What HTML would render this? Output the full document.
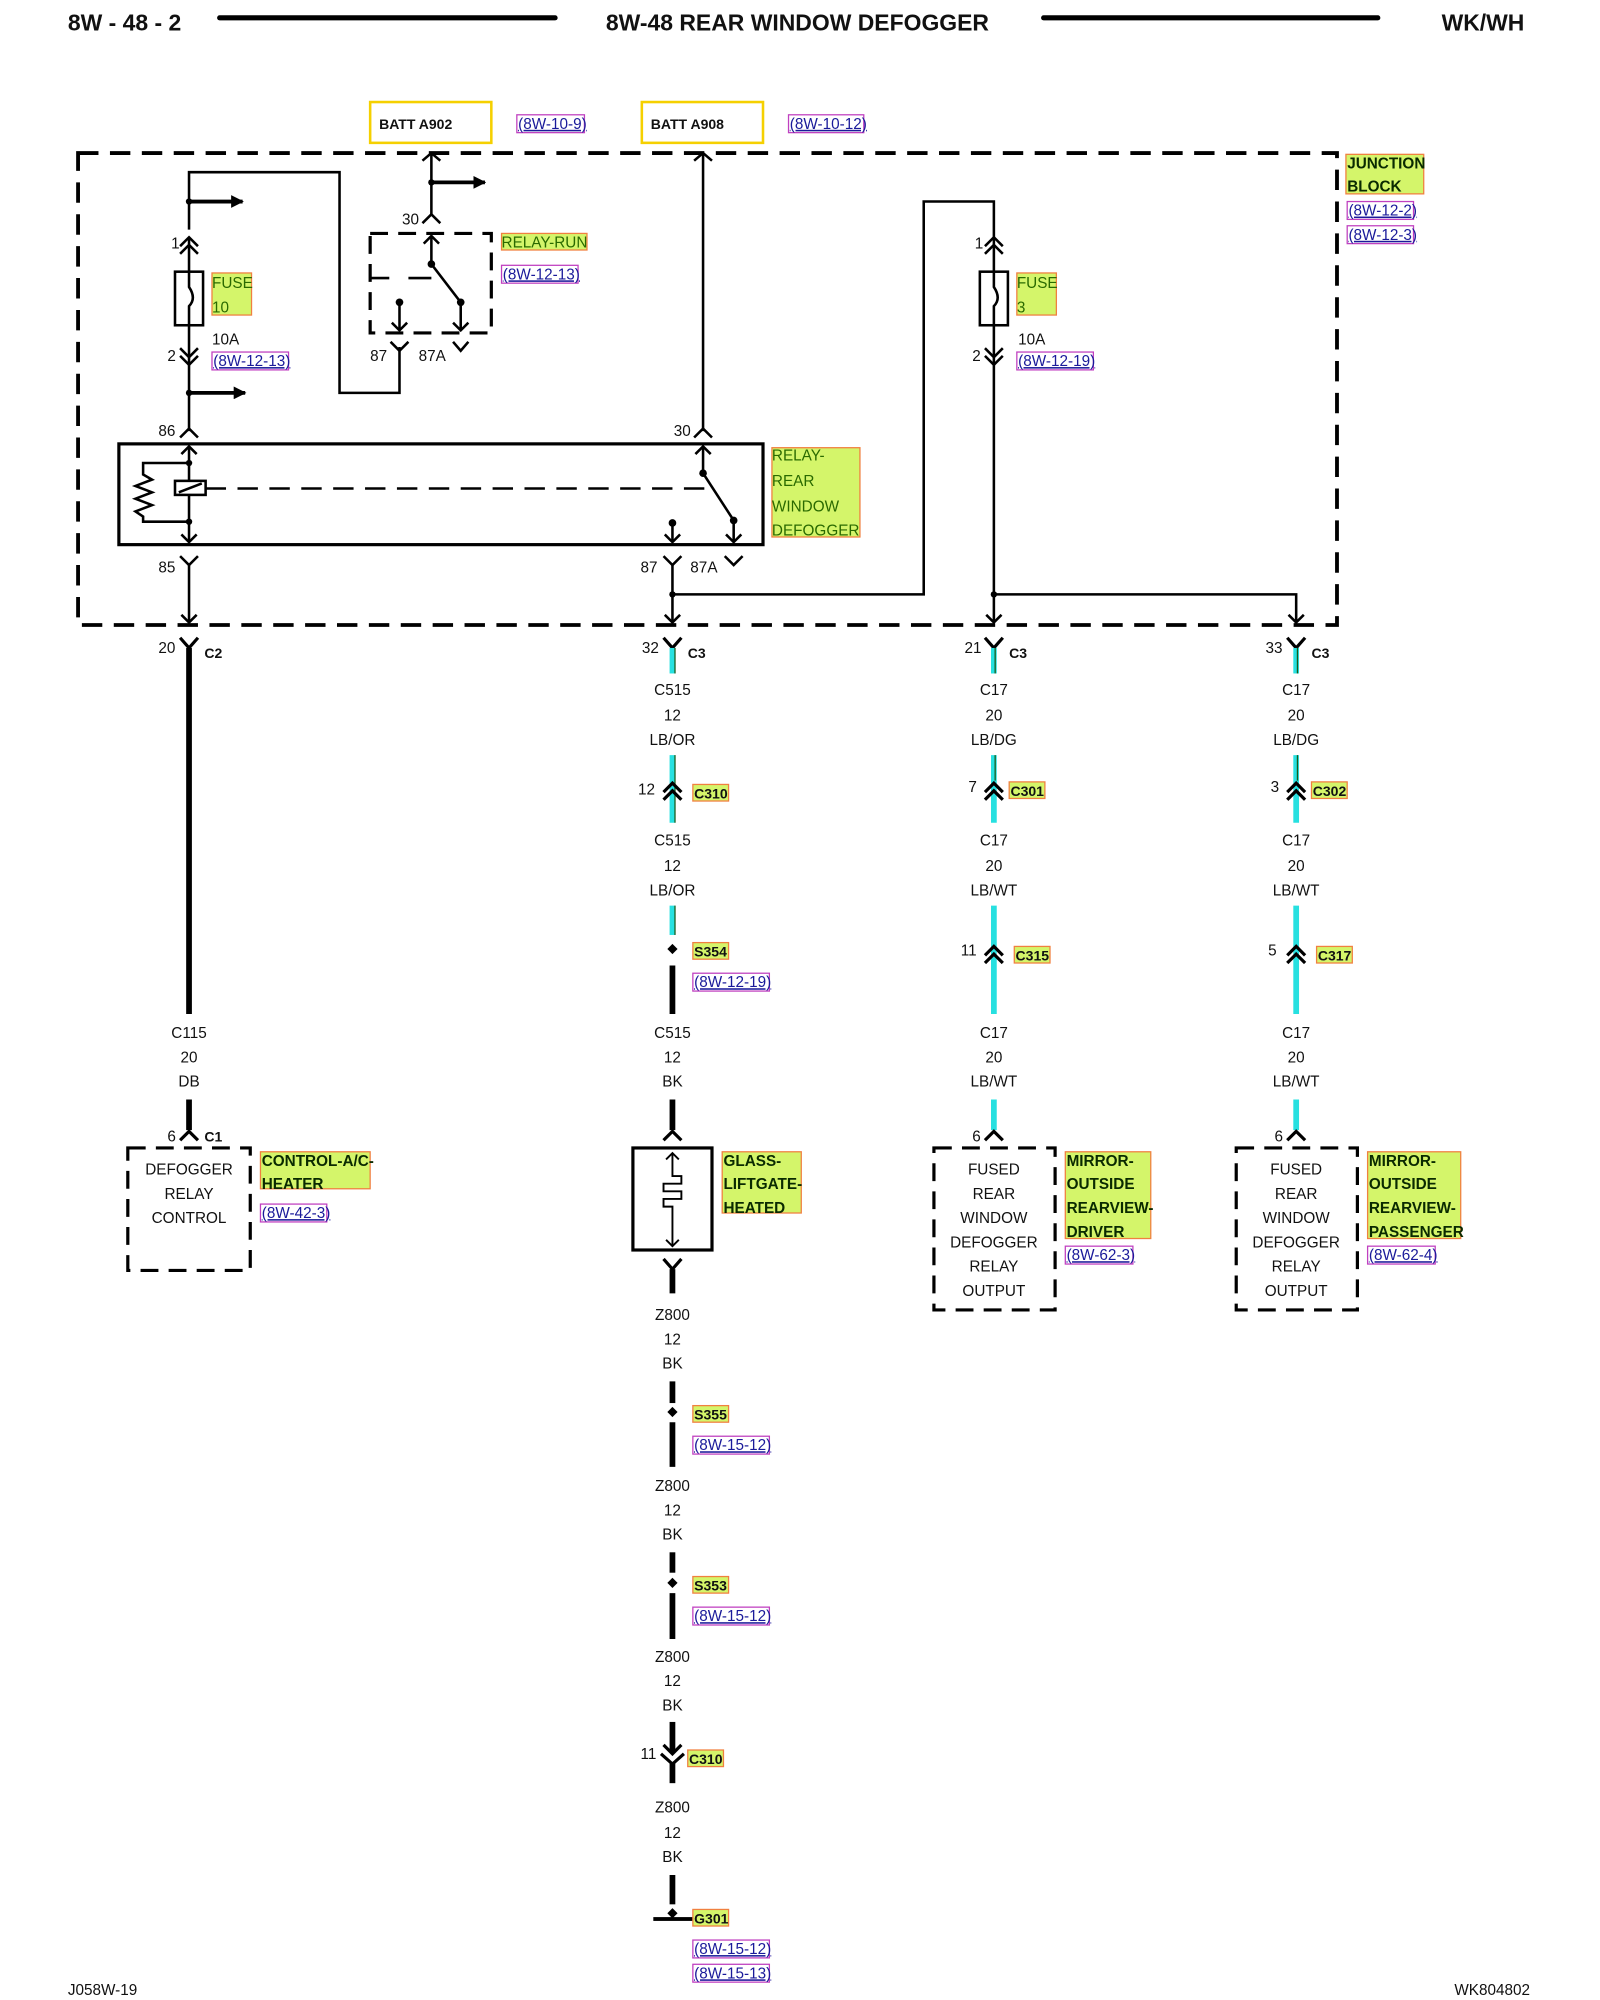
<!DOCTYPE html>
<html><head><meta charset="utf-8"><style>
html,body{margin:0;padding:0;background:#fff}
svg{display:block}
text{font-family:"Liberation Sans",sans-serif}
.t{font-size:12px;fill:#111}
.b{font-size:11px;font-weight:bold;fill:#111}
.g{font-size:12px;fill:#2a6a00}
.gb{font-size:12px;font-weight:bold;fill:#0a2a00}
.r{font-size:12px;fill:#1a1a9a;text-decoration:underline}
.h{font-size:18px;font-weight:bold;fill:#111}
</style></head><body>
<svg width="1600" height="2000" viewBox="0 0 1254 1568" xmlns="http://www.w3.org/2000/svg">
<defs>
<marker id="ah" markerWidth="10" markerHeight="10" refX="9" refY="5" orient="auto" markerUnits="userSpaceOnUse"><path d="M0,0 L10,5 L0,10 z" fill="#000"/></marker>
</defs>
<!-- header -->
<text x="53" y="24" class="h">8W - 48 - 2</text>
<line x1="172" y1="14" x2="435" y2="14" stroke="#000" stroke-width="4" stroke-linecap="round"/>
<text x="625" y="24" class="h" text-anchor="middle">8W-48 REAR WINDOW DEFOGGER</text>
<line x1="818" y1="14" x2="1080" y2="14" stroke="#000" stroke-width="4" stroke-linecap="round"/>
<text x="1130" y="24" class="h">WK/WH</text>

<!-- BATT boxes -->
<rect x="290" y="80" width="95" height="32" fill="none" stroke="#f5d000" stroke-width="2"/>
<text x="297" y="101" class="b">BATT A902</text>
<rect x="405" y="90" width="53" height="14" fill="none" stroke="#c040c0" stroke-width="1"/>
<text x="406" y="101" class="r" font-size="11">(8W-10-9)</text>
<rect x="503" y="80" width="95" height="32" fill="none" stroke="#f5d000" stroke-width="2"/>
<text x="510" y="101" class="b">BATT A908</text>
<rect x="618" y="90" width="59" height="14" fill="none" stroke="#c040c0" stroke-width="1"/>
<text x="619" y="101" class="r" font-size="11">(8W-10-12)</text>

<!-- junction block dashed -->
<rect x="61" y="120" width="987" height="370" fill="none" stroke="#000" stroke-width="3" stroke-dasharray="16,9"/>
<rect x="1055" y="121" width="61" height="31" fill="#d4f56a" stroke="#f08040" stroke-width="1"/>
<text x="1056" y="132" class="gb" font-size="11">JUNCTION</text>
<text x="1056" y="150" class="gb" font-size="11">BLOCK</text>
<rect x="1056" y="158" width="52" height="14" fill="none" stroke="#c040c0"/>
<text x="1057" y="169" class="r" font-size="11">(8W-12-2)</text>
<rect x="1056" y="177" width="52" height="14" fill="none" stroke="#c040c0"/>
<text x="1057" y="188" class="r" font-size="11">(8W-12-3)</text>

<g stroke="#000" stroke-width="2" fill="none">
<!-- left fuse column -->
<polyline points="148,180 148,135 266,135 266,308 313,308 313,272"/>
<line x1="148" y1="158" x2="190" y2="158" stroke-width="3" marker-end="url(#ah)"/>
<polyline points="141,193 148,186 155,193"/><polyline points="141,199 148,192 155,199"/>
<line x1="148" y1="186" x2="148" y2="285"/>
<rect x="137" y="213" width="22" height="42" fill="#fff"/>
<path d="M148,213 L148,225 Q154,234 148,240 L148,255"/>
<polyline points="141,273 148,280 155,273"/><polyline points="141,279 148,286 155,279"/>
<line x1="148" y1="286" x2="148" y2="338"/>
<line x1="148" y1="308" x2="192" y2="308" stroke-width="3" marker-end="url(#ah)"/>
<polyline points="141,343 148,336 155,343"/>
<!-- relay rear window -->
<rect x="93" y="348" width="505" height="79" stroke-width="2.5"/>
<line x1="148" y1="350" x2="148" y2="425"/>
<polyline points="142,356 148,350 154,356"/><polyline points="142,419 148,425 154,419"/>
<polyline points="148,363 112,363 112,372 119,376 106,381 119,386 106,391 119,396 106,401 112,405 112,409 148,409"/>
<rect x="137" y="377" width="24" height="11" fill="#fff"/>
<line x1="140" y1="386" x2="158" y2="379"/>
<line x1="161" y1="383" x2="555" y2="383" stroke-dasharray="16,9"/>
<polyline points="141,436 148,443 155,436"/>
<line x1="148" y1="443" x2="148" y2="488"/>
<polyline points="142,482 148,488 154,482"/>
<!-- switch 30 -->
<line x1="551" y1="120" x2="551" y2="338"/>
<polyline points="544,126 551,120 558,126"/>
<polyline points="544,343 551,336 558,343"/>
<polyline points="551,350 551,371 575,408 575,425"/>
<polyline points="545,356 551,350 557,356"/>
<polyline points="569,419 575,425 581,419"/>
<polyline points="527,410 527,425"/><polyline points="521,419 527,425 533,419"/>
<polyline points="568,436 575,443 582,436"/>
<polyline points="520,436 527,443 534,436"/>
<polyline points="527,443 527,488"/><polyline points="521,482 527,488 533,482"/>
<polyline points="527,466 724,466 724,158 779,158 779,186"/>
<polyline points="779,466 1016,466 1016,488"/><polyline points="1010,482 1016,488 1022,482"/>
<!-- fuse 3 -->
<polyline points="772,193 779,186 786,193"/><polyline points="772,199 779,192 786,199"/>
<line x1="779" y1="186" x2="779" y2="488"/>
<rect x="768" y="213" width="22" height="42" fill="#fff"/>
<path d="M779,213 L779,225 Q785,234 779,240 L779,255"/>
<polyline points="772,273 779,280 786,273"/><polyline points="772,279 779,286 786,279"/>
<polyline points="773,482 779,488 785,482"/>
<!-- relay run -->
<line x1="338" y1="120" x2="338" y2="168"/>
<polyline points="331,126 338,120 345,126"/>
<line x1="338" y1="143" x2="380" y2="143" stroke-width="3" marker-end="url(#ah)"/>
<polyline points="331,175 338,168 345,175"/>
<rect x="290" y="183" width="95" height="78" stroke-width="2.5" stroke-dasharray="14,8"/>
<polyline points="338,185 338,207 361,237 361,259"/>
<polyline points="332,191 338,185 344,191"/>
<polyline points="355,253 361,259 367,253"/>
<polyline points="290,218 305,218"/><polyline points="320,218 338,218"/>
<polyline points="313,237 313,259"/><polyline points="307,253 313,259 319,253"/>
<polyline points="306,268 313,275 320,268"/>
<polyline points="355,268 361,275 367,268"/>
</g>
<g fill="#000">
<circle cx="148" cy="158" r="2.5"/><circle cx="148" cy="308" r="2.5"/><circle cx="338" cy="143" r="2.5"/>
<circle cx="338" cy="207" r="3"/><circle cx="361" cy="237" r="3"/><circle cx="313" cy="237" r="3"/>
<circle cx="148" cy="363" r="2.5"/><circle cx="148" cy="409" r="2.5"/>
<circle cx="551" cy="371" r="3"/><circle cx="575" cy="408" r="3"/><circle cx="527" cy="410" r="3"/>
<circle cx="527" cy="466" r="2.5"/><circle cx="779" cy="466" r="2.5"/>
</g>
<!-- inner labels -->
<text x="134" y="195" class="t">1</text>
<rect x="166" y="214" width="31" height="33" fill="#d4f56a" stroke="#f08040"/>
<text x="166" y="226" class="g">FUSE</text><text x="166" y="245" class="g">10</text>
<text x="166" y="270" class="t">10A</text>
<text x="131" y="283" class="t">2</text>
<rect x="166" y="276" width="60" height="14" fill="none" stroke="#c040c0"/>
<text x="167" y="287" class="r" font-size="11">(8W-12-13)</text>
<text x="124" y="342" class="t">86</text>
<text x="124" y="449" class="t">85</text>
<text x="315" y="176" class="t">30</text>
<rect x="393" y="183" width="67" height="13" fill="#d4f56a" stroke="#f08040"/>
<text x="393" y="194" class="g">RELAY-RUN</text>
<rect x="393" y="208" width="60" height="14" fill="none" stroke="#c040c0"/>
<text x="394" y="219" class="r" font-size="11">(8W-12-13)</text>
<text x="290" y="283" class="t">87</text><text x="328" y="283" class="t">87A</text>
<text x="528" y="342" class="t">30</text>
<rect x="605" y="351" width="69" height="70" fill="#d4f56a" stroke="#f08040"/>
<text x="605" y="361" class="g">RELAY-</text><text x="605" y="381" class="g">REAR</text>
<text x="605" y="401" class="g">WINDOW</text><text x="605" y="420" class="g">DEFOGGER</text>
<text x="502" y="449" class="t">87</text><text x="541" y="449" class="t">87A</text>
<text x="764" y="195" class="t">1</text>
<rect x="797" y="214" width="31" height="33" fill="#d4f56a" stroke="#f08040"/>
<text x="797" y="226" class="g">FUSE</text><text x="797" y="245" class="g">3</text>
<text x="798" y="270" class="t">10A</text>
<text x="762" y="283" class="t">2</text>
<rect x="797" y="276" width="60" height="14" fill="none" stroke="#c040c0"/>
<text x="798" y="287" class="r" font-size="11">(8W-12-19)</text>

<!-- outside wires -->
<g stroke="#000" stroke-width="2.5" fill="none">
<polyline points="141,500 148,508 155,500"/>
<polyline points="520,500 527,508 534,500"/>
<polyline points="772,500 779,508 786,500"/>
<polyline points="1009,500 1016,508 1023,500"/>
</g>
<g stroke-linecap="butt">
<line x1="148" y1="508" x2="148" y2="795" stroke="#000" stroke-width="4.5"/>
<line x1="148" y1="862" x2="148" y2="886" stroke="#000" stroke-width="4.5"/>
<line x1="527" y1="508" x2="527" y2="528" stroke="#27e0e0" stroke-width="4.5"/>
<line x1="527" y1="592" x2="527" y2="645" stroke="#27e0e0" stroke-width="4.5"/>
<line x1="527" y1="710" x2="527" y2="733" stroke="#27e0e0" stroke-width="4.5"/>
<line x1="527" y1="757" x2="527" y2="795" stroke="#000" stroke-width="4.5"/>
<line x1="527" y1="862" x2="527" y2="886" stroke="#000" stroke-width="4.5"/>
<line x1="527" y1="995" x2="527" y2="1014" stroke="#000" stroke-width="4.5"/>
<line x1="527" y1="1083" x2="527" y2="1100" stroke="#000" stroke-width="4.5"/>
<line x1="527" y1="1115" x2="527" y2="1150" stroke="#000" stroke-width="4.5"/>
<line x1="527" y1="1217" x2="527" y2="1233" stroke="#000" stroke-width="4.5"/>
<line x1="527" y1="1249" x2="527" y2="1285" stroke="#000" stroke-width="4.5"/>
<line x1="527" y1="1350" x2="527" y2="1374" stroke="#000" stroke-width="4.5"/>
<line x1="527" y1="1382" x2="527" y2="1398" stroke="#000" stroke-width="4.5"/>
<line x1="527" y1="1470" x2="527" y2="1493" stroke="#000" stroke-width="4.5"/>
<line x1="779" y1="508" x2="779" y2="528" stroke="#27e0e0" stroke-width="4.5"/>
<line x1="779" y1="592" x2="779" y2="645" stroke="#27e0e0" stroke-width="4.5"/>
<line x1="779" y1="710" x2="779" y2="795" stroke="#27e0e0" stroke-width="4.5"/>
<line x1="779" y1="862" x2="779" y2="886" stroke="#27e0e0" stroke-width="4.5"/>
<line x1="1016" y1="508" x2="1016" y2="528" stroke="#27e0e0" stroke-width="4.5"/>
<line x1="1016" y1="592" x2="1016" y2="645" stroke="#27e0e0" stroke-width="4.5"/>
<line x1="1016" y1="710" x2="1016" y2="795" stroke="#27e0e0" stroke-width="4.5"/>
<line x1="1016" y1="862" x2="1016" y2="886" stroke="#27e0e0" stroke-width="4.5"/>
</g>
<g stroke="#1a5a1a" stroke-width="1">
<line x1="529" y1="508" x2="529" y2="528"/><line x1="529" y1="592" x2="529" y2="645"/><line x1="529" y1="710" x2="529" y2="733"/>
<line x1="780" y1="508" x2="780" y2="528"/><line x1="780" y1="592" x2="780" y2="612"/>
<line x1="1017" y1="508" x2="1017" y2="528"/><line x1="1017" y1="592" x2="1017" y2="612"/>
</g>
<g stroke="#000" stroke-width="2.5" fill="none">
<polyline points="520,621 527,614 534,621"/><polyline points="520,627 527,620 534,627"/>
<polyline points="772,621 779,614 786,621"/><polyline points="772,627 779,620 786,627"/>
<polyline points="1009,621 1016,614 1023,621"/><polyline points="1009,627 1016,620 1023,627"/>
<polyline points="772,749 779,742 786,749"/><polyline points="772,755 779,748 786,755"/>
<polyline points="1009,749 1016,742 1023,749"/><polyline points="1009,755 1016,748 1023,755"/>
<polyline points="141,894 148,887 155,894"/>
<polyline points="520,894 527,887 534,894"/>
<polyline points="772,894 779,887 786,894"/>
<polyline points="1009,894 1016,887 1023,894"/>
<polyline points="520,987 527,995 534,987"/>
<polyline points="520,1368 527,1375 534,1368"/><polyline points="518,1375 527,1383 536,1375"/>
<rect x="100" y="900" width="96" height="96" stroke-dasharray="14,8"/>
<rect x="732" y="900" width="95" height="127" stroke-dasharray="14,8"/>
<rect x="969" y="900" width="95" height="127" stroke-dasharray="14,8"/>
<rect x="496" y="900" width="62" height="80"/>
</g>
<g stroke="#000" stroke-width="1.5" fill="none">
<polyline points="527,904 527,922 534,922 534,928 520,928 520,934 534,934 534,940 520,940 520,946 527,946 527,977"/>
<polyline points="522,909 527,904 532,909"/><polyline points="522,972 527,977 532,972"/>
</g>
<g fill="#000">
<path d="M527,740 L531,744 L527,748 L523,744z"/>
<path d="M527,1103 L531,1107 L527,1111 L523,1107z"/>
<path d="M527,1237 L531,1241 L527,1245 L523,1241z"/>
<path d="M527,1496 L531,1500 L527,1504 L523,1500z"/>
<rect x="512" y="1503" width="31" height="3"/>
</g>
<text x="124" y="512" class="t">20</text><text x="160" y="516" class="b">C2</text>
<text x="503" y="512" class="t">32</text><text x="539" y="516" class="b">C3</text>
<text x="756" y="512" class="t">21</text><text x="791" y="516" class="b">C3</text>
<text x="992" y="512" class="t">33</text><text x="1028" y="516" class="b">C3</text>
<g class="t" text-anchor="middle">
<text x="527" y="545">C515</text><text x="527" y="565">12</text><text x="527" y="584">LB/OR</text>
<text x="527" y="663">C515</text><text x="527" y="683">12</text><text x="527" y="702">LB/OR</text>
<text x="527" y="814">C515</text><text x="527" y="833">12</text><text x="527" y="852">BK</text>
<text x="148" y="814">C115</text><text x="148" y="833">20</text><text x="148" y="852">DB</text>
<text x="779" y="545">C17</text><text x="779" y="565">20</text><text x="779" y="584">LB/DG</text>
<text x="779" y="663">C17</text><text x="779" y="683">20</text><text x="779" y="702">LB/WT</text>
<text x="779" y="814">C17</text><text x="779" y="833">20</text><text x="779" y="852">LB/WT</text>
<text x="1016" y="545">C17</text><text x="1016" y="565">20</text><text x="1016" y="584">LB/DG</text>
<text x="1016" y="663">C17</text><text x="1016" y="683">20</text><text x="1016" y="702">LB/WT</text>
<text x="1016" y="814">C17</text><text x="1016" y="833">20</text><text x="1016" y="852">LB/WT</text>
<text x="527" y="1035">Z800</text><text x="527" y="1054">12</text><text x="527" y="1073">BK</text>
<text x="527" y="1169">Z800</text><text x="527" y="1188">12</text><text x="527" y="1207">BK</text>
<text x="527" y="1303">Z800</text><text x="527" y="1322">12</text><text x="527" y="1341">BK</text>
<text x="527" y="1421">Z800</text><text x="527" y="1441">12</text><text x="527" y="1460">BK</text>
<text x="148" y="921">DEFOGGER</text><text x="148" y="940">RELAY</text><text x="148" y="959">CONTROL</text>
<text x="779" y="921">FUSED</text><text x="779" y="940">REAR</text><text x="779" y="959">WINDOW</text><text x="779" y="978">DEFOGGER</text><text x="779" y="997">RELAY</text><text x="779" y="1016">OUTPUT</text>
<text x="1016" y="921">FUSED</text><text x="1016" y="940">REAR</text><text x="1016" y="959">WINDOW</text><text x="1016" y="978">DEFOGGER</text><text x="1016" y="997">RELAY</text><text x="1016" y="1016">OUTPUT</text>
</g>
<text x="500" y="623" class="t">12</text>
<rect x="543" y="615" width="28" height="13" fill="#d4f56a" stroke="#f08040"/><text x="544" y="626" class="b">C310</text>
<rect x="543" y="739" width="28" height="13" fill="#d4f56a" stroke="#f08040"/><text x="544" y="750" class="b">S354</text>
<rect x="543" y="763" width="60" height="14" fill="none" stroke="#c040c0"/><text x="544" y="774" class="r" font-size="11">(8W-12-19)</text>
<text x="759" y="621" class="t">7</text>
<rect x="791" y="613" width="28" height="13" fill="#d4f56a" stroke="#f08040"/><text x="792" y="624" class="b">C301</text>
<text x="996" y="621" class="t">3</text>
<rect x="1028" y="613" width="28" height="13" fill="#d4f56a" stroke="#f08040"/><text x="1029" y="624" class="b">C302</text>
<text x="753" y="749" class="t">11</text>
<rect x="795" y="742" width="28" height="13" fill="#d4f56a" stroke="#f08040"/><text x="796" y="753" class="b">C315</text>
<text x="994" y="749" class="t">5</text>
<rect x="1032" y="742" width="28" height="13" fill="#d4f56a" stroke="#f08040"/><text x="1033" y="753" class="b">C317</text>
<text x="131" y="895" class="t">6</text><text x="160" y="895" class="b">C1</text>
<text x="762" y="895" class="t">6</text><text x="999" y="895" class="t">6</text>
<rect x="204" y="903" width="86" height="29" fill="#d4f56a" stroke="#f08040"/>
<text x="205" y="914" class="gb" font-size="11">CONTROL-A/C-</text><text x="205" y="932" class="gb" font-size="11">HEATER</text>
<rect x="204" y="944" width="52" height="14" fill="none" stroke="#c040c0"/><text x="205" y="955" class="r" font-size="11">(8W-42-3)</text>
<rect x="566" y="903" width="62" height="48" fill="#d4f56a" stroke="#f08040"/>
<text x="567" y="914" class="gb" font-size="11">GLASS-</text><text x="567" y="932" class="gb" font-size="11">LIFTGATE-</text><text x="567" y="951" class="gb" font-size="11">HEATED</text>
<rect x="835" y="903" width="67" height="68" fill="#d4f56a" stroke="#f08040"/>
<text x="836" y="914" class="gb" font-size="11">MIRROR-</text><text x="836" y="932" class="gb" font-size="11">OUTSIDE</text><text x="836" y="951" class="gb" font-size="11">REARVIEW-</text><text x="836" y="970" class="gb" font-size="11">DRIVER</text>
<rect x="835" y="977" width="53" height="14" fill="none" stroke="#c040c0"/><text x="836" y="988" class="r" font-size="11">(8W-62-3)</text>
<rect x="1072" y="903" width="73" height="68" fill="#d4f56a" stroke="#f08040"/>
<text x="1073" y="914" class="gb" font-size="11">MIRROR-</text><text x="1073" y="932" class="gb" font-size="11">OUTSIDE</text><text x="1073" y="951" class="gb" font-size="11">REARVIEW-</text><text x="1073" y="970" class="gb" font-size="11">PASSENGER</text>
<rect x="1072" y="977" width="53" height="14" fill="none" stroke="#c040c0"/><text x="1073" y="988" class="r" font-size="11">(8W-62-4)</text>
<rect x="543" y="1102" width="28" height="13" fill="#d4f56a" stroke="#f08040"/><text x="544" y="1113" class="b">S355</text>
<rect x="543" y="1126" width="60" height="14" fill="none" stroke="#c040c0"/><text x="544" y="1137" class="r" font-size="11">(8W-15-12)</text>
<rect x="543" y="1236" width="28" height="13" fill="#d4f56a" stroke="#f08040"/><text x="544" y="1247" class="b">S353</text>
<rect x="543" y="1260" width="60" height="14" fill="none" stroke="#c040c0"/><text x="544" y="1271" class="r" font-size="11">(8W-15-12)</text>
<text x="502" y="1379" class="t">11</text>
<rect x="539" y="1372" width="28" height="13" fill="#d4f56a" stroke="#f08040"/><text x="540" y="1383" class="b">C310</text>
<rect x="543" y="1497" width="28" height="13" fill="#d4f56a" stroke="#f08040"/><text x="544" y="1508" class="b">G301</text>
<rect x="543" y="1521" width="60" height="14" fill="none" stroke="#c040c0"/><text x="544" y="1532" class="r" font-size="11">(8W-15-12)</text>
<rect x="543" y="1540" width="60" height="14" fill="none" stroke="#c040c0"/><text x="544" y="1551" class="r" font-size="11">(8W-15-13)</text>
<text x="53" y="1564" class="t" font-size="11">J058W-19</text>
<text x="1140" y="1564" class="t" font-size="11">WK804802</text>
</svg>
</body></html>
